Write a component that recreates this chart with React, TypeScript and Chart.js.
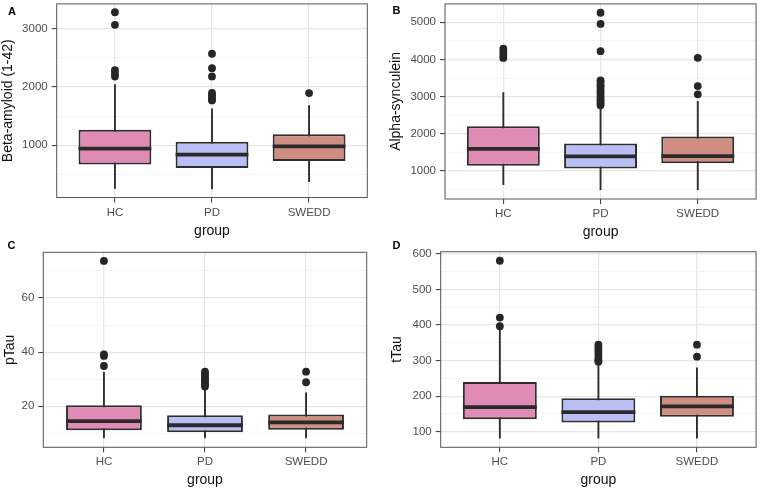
import React, { useEffect, useRef } from 'react';
import { Chart, registerables } from 'chart.js';

Chart.register(...registerables);

// ---------- shared ----------
const groups = ['HC', 'PD', 'SWEDD'];
const groupFills = ['#E08BB5', '#B9BFF5', '#CF8E81'];

// ---------- A: Beta-amyloid (1-42) ----------
const abetaLower = [255, 245, 371];
const abetaQ1 = [669, 611, 731];
const abetaMedian = [943, 840, 983];
const abetaQ3 = [1269, 1063, 1189];
const abetaUpper = [2050, 1630, 1686];
const abetaOutHC = [3285, 3069, 2290, 2230, 2180];
const abetaOutPD = [2572, 2325, 2183, 1900, 1860, 1828, 1790, 1771];
const abetaOutSWEDD = [1897];
const abetaTicks = [500, 1000, 1500, 2000, 2500, 3000];
const abetaMajorStep = 1000;
const abetaLimits = [104, 3428];

// ---------- B: Alpha-synculein ----------
const asynLower = [625, 491, 491];
const asynQ1 = [1142, 1071, 1214];
const asynMedian = [1597, 1393, 1400];
const asynQ3 = [2205, 1741, 1929];
const asynUpper = [3116, 2679, 2884];
const asynOutHC = [4290, 4210, 4120, 4040];
const asynOutPD = [5255, 4955, 4223, 3440, 3390, 3310, 3260, 3180, 3120, 3050, 2990, 2930, 2880, 2820, 2770];
const asynOutSWEDD = [4045, 3285, 3062];
const asynTicks = [500, 1000, 1500, 2000, 2500, 3000, 3500, 4000, 4500, 5000];
const asynMajorStep = 1000;
const asynLimits = [250, 5493];

// ---------- C: pTau ----------
const ptauLower = [8.2, 8.2, 8.2];
const ptauQ1 = [11.2, 10.4, 11.3];
const ptauMedian = [14.5, 13.0, 14.1];
const ptauQ3 = [20.4, 16.7, 17.0];
const ptauUpper = [32.7, 26.5, 25.1];
const ptauOutHC = [73.7, 39.2, 38.6, 34.9];
const ptauOutPD = [32.8, 32.1, 31.2, 30.4, 29.6, 28.8, 28.0, 27.3];
const ptauOutSWEDD = [32.8, 28.9];
const ptauTicks = [10, 20, 30, 40, 50, 60, 70];
const ptauMajorStep = 20;
const ptauLimits = [4.86, 76.9];

// ---------- D: tTau ----------
const ttauLower = [81, 81, 81];
const ttauQ1 = [135, 126, 142];
const ttauMedian = [169, 155, 171];
const ttauQ3 = [240, 194, 201];
const ttauUpper = [386, 288, 281];
const ttauOutHC = [581, 421, 397];
const ttauOutPD = [345, 338, 330, 322, 314, 305, 300, 297];
const ttauOutSWEDD = [345, 311];
const ttauTicks = [100, 150, 200, 250, 300, 350, 400, 450, 500, 550, 600];
const ttauMajorStep = 100;
const ttauLimits = [56.1, 606.5];

// ---------- styling ----------
const FONT = '"Liberation Sans", Arial, Helvetica, sans-serif';
const BOX_WIDTH = 0.75;
const X_LIMITS = [-0.6, 2.6];
const LINE_COLOR = '#2E2E2E';
const GRID_MAJOR = '#E6E6E6';
const GRID_MINOR = '#F1F1F1';
const TITLE_SIZE = 14;
const TICK_SIZE = 11.5;

type Spec = {
  key: string;
  tag: string;
  yTitle: string;
  lower: number[];
  q1: number[];
  median: number[];
  q3: number[];
  upper: number[];
  outliers: number[][];
  ticks: number[];
  majorStep: number;
  limits: number[];
  canvas: { left: number; top: number; w: number; h: number };
  plot: { l: number; t: number; r: number; b: number };
  yTitleX: number;
  xTitleY: number;
  tagPos: { left: number; top: number };
};

const panels: Spec[] = [
  {
    key: 'A', tag: 'A', yTitle: 'Beta-amyloid (1-42)',
    lower: abetaLower, q1: abetaQ1, median: abetaMedian, q3: abetaQ3, upper: abetaUpper,
    outliers: [abetaOutHC, abetaOutPD, abetaOutSWEDD],
    ticks: abetaTicks, majorStep: abetaMajorStep, limits: abetaLimits,
    canvas: { left: 0, top: 0, w: 380, h: 245 },
    plot: { l: 56.7, t: 3.3, r: 367.3, b: 197.5 },
    yTitleX: 7.8, xTitleY: 230.8,
    tagPos: { left: 8, top: 5.8 },
  },
  {
    key: 'B', tag: 'B', yTitle: 'Alpha-synculein',
    lower: asynLower, q1: asynQ1, median: asynMedian, q3: asynQ3, upper: asynUpper,
    outliers: [asynOutHC, asynOutPD, asynOutSWEDD],
    ticks: asynTicks, majorStep: asynMajorStep, limits: asynLimits,
    canvas: { left: 380, top: 0, w: 380, h: 245 },
    plot: { l: 65, t: 3.3, r: 376.7, b: 199 },
    yTitleX: 16.3, xTitleY: 231.8,
    tagPos: { left: 392.5, top: 4.8 },
  },
  {
    key: 'C', tag: 'C', yTitle: 'pTau',
    lower: ptauLower, q1: ptauQ1, median: ptauMedian, q3: ptauQ3, upper: ptauUpper,
    outliers: [ptauOutHC, ptauOutPD, ptauOutSWEDD],
    ticks: ptauTicks, majorStep: ptauMajorStep, limits: ptauLimits,
    canvas: { left: 0, top: 245, w: 380, h: 245 },
    plot: { l: 43.3, t: 7.3, r: 366.7, b: 202.3 },
    yTitleX: 10.5, xTitleY: 234.8,
    tagPos: { left: 7.5, top: 239.8 },
  },
  {
    key: 'D', tag: 'D', yTitle: 'tTau',
    lower: ttauLower, q1: ttauQ1, median: ttauMedian, q3: ttauQ3, upper: ttauUpper,
    outliers: [ttauOutHC, ttauOutPD, ttauOutSWEDD],
    ticks: ttauTicks, majorStep: ttauMajorStep, limits: ttauLimits,
    canvas: { left: 380, top: 245, w: 380, h: 245 },
    plot: { l: 60.7, t: 6.7, r: 376.7, b: 202.3 },
    yTitleX: 17.3, xTitleY: 234.8,
    tagPos: { left: 392.5, top: 239.8 },
  },
];

const panelBorder = {
  id: 'panelBorder',
  afterDraw(chart: any) {
    const { ctx, chartArea: a } = chart;
    ctx.save();
    ctx.strokeStyle = '#555555';
    ctx.lineWidth = 1;
    ctx.strokeRect(a.left, a.top, a.right - a.left, a.bottom - a.top);
    ctx.restore();
  },
};

function BoxPanel({ spec }: { spec: Spec }) {
  const ref = useRef<HTMLCanvasElement>(null);

  useEffect(() => {
    const canvas = ref.current;
    if (!canvas) return;
    const { w: W, h: H } = spec.canvas;
    const plot = spec.plot;
    const lh = TITLE_SIZE * 1.2;
    const padLeft = Math.max(0, spec.yTitleX - lh / 2);
    const isMajor = (v: number) =>
      Math.abs(v / spec.majorStep - Math.round(v / spec.majorStep)) < 1e-6;

    const whiskers: any[] = [];
    const medians: any[] = [];
    const points: any[] = [];
    groups.forEach((_, i) => {
      whiskers.push({ x: i, y: spec.lower[i] }, { x: i, y: spec.upper[i] }, { x: i, y: null });
      medians.push(
        { x: i - BOX_WIDTH / 2, y: spec.median[i] },
        { x: i + BOX_WIDTH / 2, y: spec.median[i] },
        { x: i + BOX_WIDTH / 2, y: null }
      );
      spec.outliers[i].forEach((v) => points.push({ x: i, y: v }));
    });

    const chart = new Chart(canvas, {
      type: 'bar',
      data: {
        datasets: [
          {
            type: 'line',
            data: whiskers,
            borderColor: LINE_COLOR,
            borderWidth: 1.9,
            borderCapStyle: 'butt',
            pointRadius: 0,
            spanGaps: false,
            order: 3,
          } as any,
          {
            type: 'bar',
            data: groups.map((_, i) => ({ x: i, y: [spec.q1[i], spec.q3[i]] })),
            backgroundColor: groupFills,
            borderColor: LINE_COLOR,
            borderWidth: 2,
            borderSkipped: false,
            barPercentage: BOX_WIDTH,
            categoryPercentage: 1,
            order: 2,
          } as any,
          {
            type: 'line',
            data: medians,
            borderColor: '#2A2A2A',
            borderWidth: 3.8,
            borderCapStyle: 'butt',
            pointRadius: 0,
            spanGaps: false,
            order: 1,
          } as any,
          {
            type: 'scatter',
            data: points,
            pointRadius: 3.9,
            pointHoverRadius: 3.9,
            pointBackgroundColor: '#262626',
            pointBorderWidth: 0,
            order: 0,
          } as any,
        ],
      },
      options: {
        animation: false,
        responsive: false,
        events: [],
        layout: { padding: { left: padLeft, top: plot.t, right: W - plot.r, bottom: 0 } },
        plugins: { legend: { display: false }, tooltip: { enabled: false } },
        scales: {
          x: {
            type: 'linear',
            min: X_LIMITS[0],
            max: X_LIMITS[1],
            offset: false,
            afterBuildTicks: (s: any) => {
              s.ticks = groups.map((_, i) => ({ value: i }));
            },
            afterFit: (s: any) => {
              s.height = H - plot.b;
              s.paddingLeft = 0;
              s.paddingRight = 0;
            },
            ticks: {
              callback: (v: any) => groups[Math.round(Number(v))] ?? '',
              color: '#4D4D4D',
              font: { family: FONT, size: TICK_SIZE },
              padding: 3,
              maxRotation: 0,
              autoSkip: false,
            },
            grid: {
              offset: false,
              color: GRID_MAJOR,
              lineWidth: 1.2,
              tickLength: 5,
              tickColor: '#333333',
              tickWidth: 1,
            },
            border: { display: false },
            title: {
              display: true,
              text: 'group',
              color: '#111111',
              font: { family: FONT, size: TITLE_SIZE },
              padding: { top: 0, bottom: H - spec.xTitleY - lh / 2 },
            },
          },
          y: {
            type: 'linear',
            min: spec.limits[0],
            max: spec.limits[1],
            afterBuildTicks: (s: any) => {
              s.ticks = spec.ticks.map((v) => ({ value: v }));
            },
            afterFit: (s: any) => {
              s.width = plot.l - padLeft;
              s.paddingTop = 0;
              s.paddingBottom = 0;
            },
            ticks: {
              callback: (v: any) => (isMajor(Number(v)) ? String(v) : ''),
              color: '#4D4D4D',
              font: { family: FONT, size: TICK_SIZE },
              padding: 4,
              autoSkip: false,
            },
            grid: {
              color: (c: any) => (c.tick && !isMajor(c.tick.value) ? GRID_MINOR : GRID_MAJOR),
              lineWidth: (c: any) => (c.tick && !isMajor(c.tick.value) ? 0.8 : 1.2),
              tickLength: 5,
              tickColor: (c: any) =>
                c.tick && !isMajor(c.tick.value) ? 'rgba(0,0,0,0)' : '#333333',
              tickWidth: 1,
            },
            border: { display: false },
            title: {
              display: true,
              text: spec.yTitle,
              color: '#111111',
              font: { family: FONT, size: TITLE_SIZE },
              padding: { top: 0, bottom: 0 },
            },
          },
        },
      } as any,
      plugins: [panelBorder],
    });
    return () => chart.destroy();
  }, [spec]);

  return (
    <canvas
      ref={ref}
      width={spec.canvas.w}
      height={spec.canvas.h}
      style={{
        position: 'absolute',
        left: spec.canvas.left,
        top: spec.canvas.top,
        width: spec.canvas.w,
        height: spec.canvas.h,
        display: 'block',
      }}
    />
  );
}

export default function App() {
  return (
    <div
      style={{
        position: 'fixed',
        left: 0,
        top: 0,
        width: 760,
        height: 490,
        background: '#ffffff',
        overflow: 'hidden',
      }}
    >
      {panels.map((p) => (
        <React.Fragment key={p.key}>
          <BoxPanel spec={p} />
          <div
            style={{
              position: 'absolute',
              left: p.tagPos.left,
              top: p.tagPos.top,
              font: `bold 11px ${FONT}`,
              lineHeight: '11px',
              color: '#000',
              zIndex: 2,
            }}
          >
            {p.tag}
          </div>
        </React.Fragment>
      ))}
    </div>
  );
}
